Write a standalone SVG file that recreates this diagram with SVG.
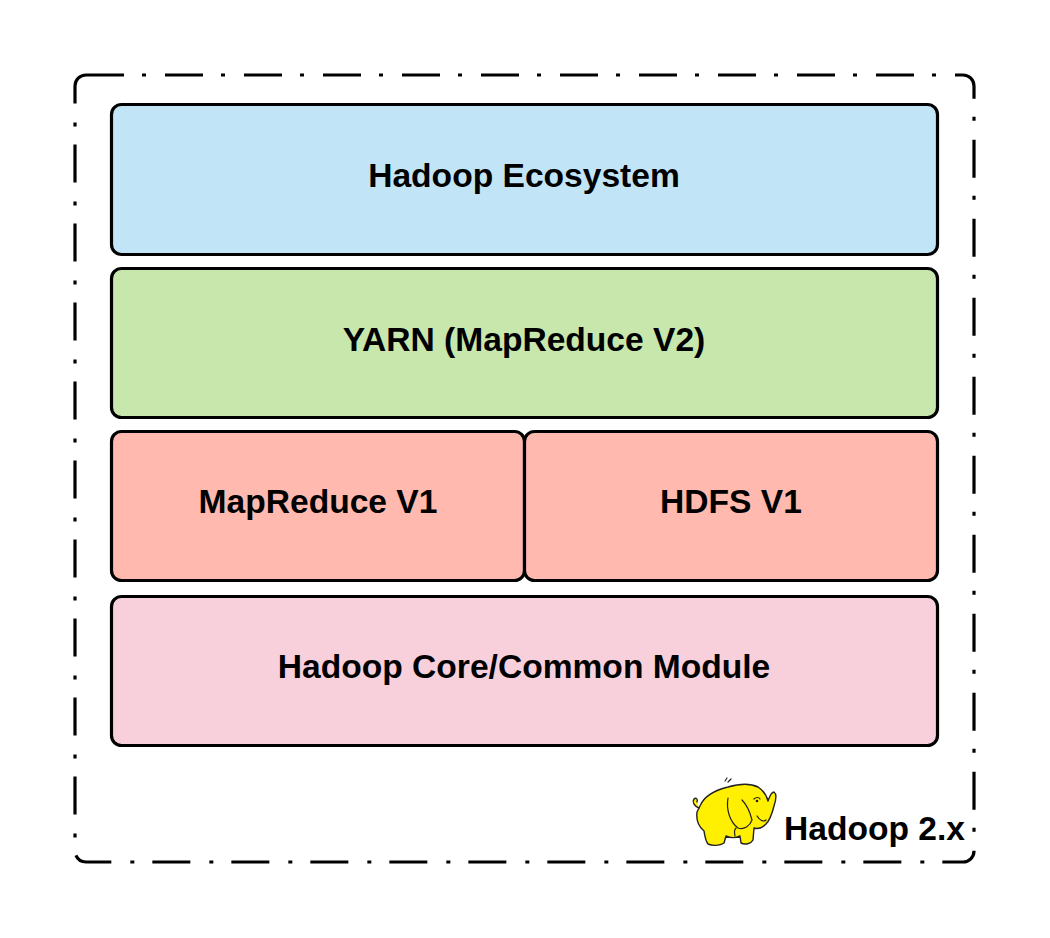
<svg xmlns="http://www.w3.org/2000/svg" width="1050" height="938" viewBox="0 0 1050 938">
<style>
.box{stroke:#000;stroke-width:3.2}
.lbl{font-family:"Liberation Sans",Arial,sans-serif;font-weight:bold;font-size:33.6px;fill:#000;text-anchor:middle}
.outline{fill:none;stroke:#000;stroke-width:3.2;stroke-dasharray:38 18 4 19}
.ele{fill:#ffef00;stroke:#222;stroke-width:1.4;stroke-linejoin:round;stroke-linecap:round}
.eleline{fill:none;stroke:#222;stroke-width:1.2;stroke-linecap:round}
</style>
<rect width="1050" height="938" fill="#fff"/>
<g id="frame">
<rect class="outline" x="75" y="75" width="899" height="787" rx="11"/>
</g>
<g id="ecosystem">
<rect class="box" x="111.5" y="104.5" width="826" height="150" rx="10" fill="#c2e4f7"/>
<text class="lbl" x="524" y="187">Hadoop Ecosystem</text>
</g>
<g id="yarn">
<rect class="box" x="111.5" y="268.5" width="826" height="149" rx="10" fill="#c7e7ad"/>
<text class="lbl" x="524" y="351">YARN (MapReduce V2)</text>
</g>
<g id="mapreduce">
<rect class="box" x="111.5" y="431.5" width="413" height="149" rx="10" fill="#ffb9ae"/>
<text class="lbl" x="318" y="513">MapReduce V1</text>
</g>
<g id="hdfs">
<rect class="box" x="524.5" y="431.5" width="413" height="149" rx="10" fill="#ffb9ae"/>
<text class="lbl" x="731" y="513">HDFS V1</text>
</g>
<g id="core">
<rect class="box" x="111.5" y="596.5" width="826" height="149" rx="10" fill="#f8d0dc"/>
<text class="lbl" x="524" y="678">Hadoop Core/Common Module</text>
</g>
<g id="logo">
<path class="ele" d="M700,806 C704,796 716,790 728,787 C738,784 750,783 758,787 C764,791 767,797 768,801 C770,796 771,792 774,792 C777,794 776,800 774,806 C772,814 770,820 766,824 C762,828 757,829 754,828 L753,840 C751,844 745,845 741,843 L740,836 C736,838 730,838 726,836 L724,843 C720,846 712,846 708,844 C705,840 705,836 704,831 C699,827 696,820 697,812 Z"/>
<path class="ele" d="M699,808 C694,806 692,802 694,799 C696,797 698,799 697,802"/>
<path class="eleline" d="M728,798 C726,810 730,822 738,828 C744,830 750,826 752,820 C750,812 746,804 742,800"/>
<path class="eleline" d="M757,816 C760,821 764,822 766,820"/>
<path class="eleline" d="M754,799 C756,797 759,797 760,799"/>
<circle cx="757" cy="801" r="1.3" fill="#222"/>
<path class="eleline" d="M735,836 C734,832 734,830 736,828"/>
<path class="eleline" d="M728,782 L731,779 M725,781 L727,778"/>
<text x="784" y="840" font-family="'Liberation Sans',Arial,sans-serif" font-weight="bold" font-size="33.6" fill="#000">Hadoop 2.x</text>
</g>
</svg>
